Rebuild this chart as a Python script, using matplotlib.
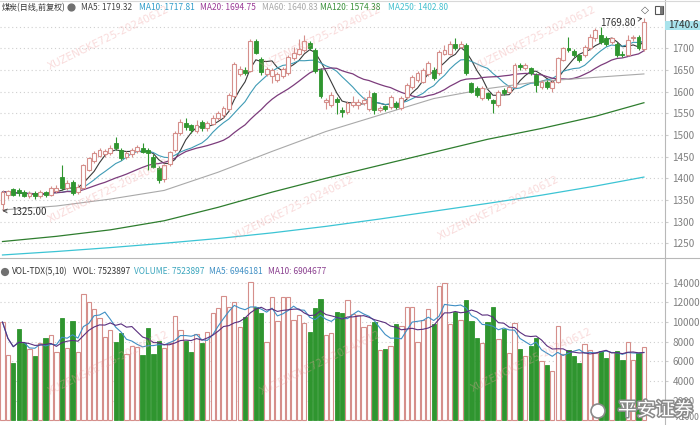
import numpy as np
import pandas as pd
import matplotlib
matplotlib.use('Agg')
import matplotlib.pyplot as plt
from matplotlib.patches import Rectangle, Circle
from matplotlib.lines import Line2D
import matplotlib.patheffects as pe

plt.rcParams['font.family'] = ['Noto Sans CJK SC', 'DejaVu Sans']

# daily candles (oldest first)
opens = [1340, 1362, 1376, 1374, 1368, 1358, 1366, 1360, 1368, 1362,
         1370, 1403, 1378, 1392, 1368, 1378, 1420, 1440, 1452, 1456,
         1458, 1481, 1466, 1448, 1455, 1462, 1470, 1466, 1449, 1424,
         1398, 1432, 1465, 1505, 1527, 1522, 1510, 1530, 1515, 1526,
         1538, 1546, 1560, 1590, 1640, 1650, 1648, 1718, 1675, 1641,
         1636, 1627, 1636, 1642, 1678, 1688, 1696, 1712, 1696, 1650,
         1577, 1570, 1582, 1558, 1552, 1569, 1570, 1573, 1560, 1596,
         1558, 1566, 1565, 1573, 1562, 1588, 1611, 1627, 1623, 1640,
         1650, 1642, 1688, 1688, 1711, 1704, 1707, 1619, 1608, 1585,
         1596, 1581, 1569, 1604, 1600, 1611, 1661, 1654, 1654, 1638,
         1611, 1623, 1608, 1623, 1673, 1700, 1694, 1685, 1685, 1700,
         1723, 1731, 1723, 1715, 1711, 1688, 1685, 1723, 1727, 1698]
closes = [1368, 1370, 1362, 1365, 1360, 1366, 1359, 1368, 1361, 1378,
          1378, 1377, 1390, 1366, 1380, 1430, 1446, 1458, 1466, 1464,
          1470, 1470, 1447, 1458, 1466, 1472, 1461, 1458, 1427, 1396,
          1430, 1460, 1505, 1530, 1518, 1512, 1522, 1515, 1528, 1540,
          1550, 1562, 1592, 1664, 1652, 1643, 1718, 1690, 1645, 1652,
          1650, 1640, 1652, 1680, 1690, 1698, 1716, 1700, 1648, 1590,
          1581, 1592, 1575, 1553, 1573, 1577, 1576, 1581, 1588, 1558,
          1562, 1560, 1588, 1565, 1585, 1615, 1634, 1642, 1650, 1665,
          1631, 1692, 1696, 1711, 1700, 1711, 1642, 1600, 1592, 1608,
          1585, 1573, 1600, 1596, 1611, 1661, 1657, 1661, 1642, 1615,
          1623, 1611, 1623, 1677, 1700, 1696, 1685, 1673, 1704, 1727,
          1742, 1715, 1711, 1723, 1685, 1685, 1719, 1727, 1700, 1760]
highs = [1374, 1374, 1378, 1378, 1372, 1370, 1370, 1372, 1371, 1382,
         1385, 1431, 1395, 1396, 1386, 1434, 1450, 1464, 1470, 1468,
         1476, 1495, 1470, 1462, 1470, 1476, 1481, 1470, 1455, 1428,
         1434, 1464, 1508, 1536, 1538, 1526, 1535, 1534, 1532, 1546,
         1556, 1566, 1596, 1668, 1660, 1656, 1722, 1722, 1680, 1658,
         1654, 1645, 1656, 1684, 1702, 1722, 1730, 1716, 1700, 1654,
         1585, 1598, 1588, 1565, 1578, 1590, 1582, 1588, 1604, 1600,
         1566, 1570, 1592, 1578, 1590, 1620, 1638, 1648, 1655, 1670,
         1656, 1696, 1707, 1716, 1723, 1716, 1712, 1622, 1612, 1612,
         1600, 1584, 1604, 1608, 1615, 1666, 1665, 1666, 1658, 1642,
         1628, 1626, 1628, 1680, 1704, 1727, 1698, 1688, 1708, 1732,
         1746, 1750, 1728, 1727, 1714, 1694, 1731, 1730, 1731, 1769.8]
lows = [1325, 1352, 1358, 1360, 1356, 1354, 1352, 1355, 1356, 1358,
        1366, 1372, 1372, 1362, 1364, 1376, 1416, 1436, 1448, 1450,
        1454, 1465, 1442, 1444, 1450, 1458, 1458, 1420, 1424, 1389,
        1392, 1428, 1460, 1500, 1512, 1505, 1505, 1510, 1510, 1522,
        1534, 1540, 1555, 1586, 1635, 1638, 1645, 1686, 1638, 1636,
        1620, 1622, 1632, 1638, 1672, 1684, 1692, 1696, 1644, 1585,
        1560, 1565, 1548, 1542, 1548, 1565, 1560, 1568, 1556, 1548,
        1552, 1555, 1560, 1560, 1558, 1584, 1606, 1622, 1620, 1636,
        1628, 1638, 1684, 1684, 1696, 1700, 1638, 1596, 1588, 1580,
        1580, 1550, 1565, 1592, 1596, 1608, 1650, 1650, 1638, 1598,
        1606, 1606, 1600, 1620, 1670, 1692, 1680, 1668, 1680, 1696,
        1718, 1710, 1706, 1710, 1680, 1680, 1682, 1718, 1696, 1694]
# volume in thousands (axis is x1000)
volumes = [10000, 6700, 5800, 9250, 7850, 7250, 6550, 7850, 8350, 8700,
           7000, 10400, 7350, 10100, 7000, 12850, 12000, 11300, 10450, 8500,
           9200, 7950, 8850, 6750, 7600, 7500, 6700, 9450, 6800, 8100,
           7350, 7850, 10650, 9200, 8100, 7000, 8750, 7900, 8950, 10900,
           11400, 12650, 11550, 12000, 9550, 10550, 14050, 11550, 10900, 8000,
           12600, 10100, 12600, 12600, 10200, 10700, 9950, 9000, 11400, 12400,
           8700, 8850, 11050, 10900, 12250, 10800, 10700, 9500, 9700, 10000,
           7200, 7300, 7600, 9800, 9600, 11500, 11500, 8000, 10200, 11300,
           9800, 13700, 14000, 9800, 11000, 10200, 12200, 10100, 8400, 7900,
           10000, 11500, 8300, 9300, 6900, 9900, 7300, 6600, 7600, 8400,
           6000, 5600, 5000, 9600, 6800, 7200, 6600, 5800, 7800, 7200,
           6900, 7100, 6300, 7000, 7100, 6100, 8000, 6100, 6900, 7500]

# long moving averages, read at every 10th candle
ma_idx = [0, 10, 20, 30, 40, 50, 60, 70, 80, 90, 100, 110, 119]
ma60 = [1327, 1336, 1352, 1372, 1414, 1462, 1508, 1546, 1584, 1607, 1624, 1633, 1640.83]
ma120 = [1254, 1266, 1281, 1302, 1333, 1368, 1400, 1430, 1460, 1490, 1515, 1543, 1574.38]
ma250 = [1223, 1231, 1240, 1250, 1261, 1274, 1289, 1306, 1324, 1342, 1361, 1382, 1402.80]

price_ticks = [1250, 1300, 1350, 1400, 1450, 1500, 1550, 1600, 1650, 1700]
price_grid = price_ticks + [1750]
vol_ticks = [2000, 4000, 6000, 8000, 10000, 12000, 14000]

UP_EDGE = '#d58f8b'
DOWN = '#2f952f'
W, H = 700, 425


def fx(x):
    return x / W


def fy(y):
    return 1 - y / H


fig = plt.figure(figsize=(7, 4.25), dpi=100)
ax = fig.add_axes([0, fy(258), fx(665), 258 / H])
axv = fig.add_axes([0, 0, fx(665), (H - 258) / H])

n = len(closes)
x = np.arange(n)
o = np.array(opens, float)
c = np.array(closes, float)
hi = np.array(highs, float)
lo = np.array(lows, float)
up = c >= o
xlim = (-2.5 / 5.39, (665 - 2.5) / 5.39)

# ---- shared axis look
for a in (ax, axv):
    a.set_xlim(*xlim)
    a.set_xticks([])
    a.yaxis.tick_right()
    a.tick_params(axis='y', length=2, color='#cccccc', labelsize=7.2,
                  labelcolor='#808080', pad=3.5)
    for s in ('left', 'top', 'bottom'):
        a.spines[s].set_visible(False)
    a.spines['right'].set_color('#b8b8b8')
    a.spines['right'].set_linewidth(0.8)

# ---- price panel
ax.set_ylim(1216.0, 1811.5)
ax.set_yticks(price_ticks)
for p in price_grid:
    ax.axhline(p, color='#cfcfcf', lw=0.8, ls=(0, (1, 2.5)), zorder=0)

# moving averages
cs = pd.Series(c)
ax.plot(x, cs.rolling(5, min_periods=1).mean(), color='#3a3a3a', lw=0.8, zorder=3)
ax.plot(x, cs.rolling(10, min_periods=1).mean(), color='#3f9bb5', lw=0.8, zorder=3)
ax.plot(x, cs.rolling(20, min_periods=1).mean(), color='#7c3c7c', lw=0.9, zorder=3)
ax.plot(ma_idx, ma60, color='#a9a9a9', lw=0.8, zorder=3)
ax.plot(ma_idx, ma120, color='#2e7d2e', lw=0.9, zorder=3)
ax.plot(ma_idx, ma250, color='#3cc4d4', lw=0.9, zorder=3)

# candles
wick_col = np.where(up, UP_EDGE, DOWN)
ax.vlines(x, lo, hi, colors=wick_col, lw=0.8, zorder=4)
body_h = np.maximum(np.abs(c - o), 0.8)
body_b = np.minimum(o, c)
ax.bar(x[up], body_h[up], bottom=body_b[up], width=0.72, facecolor='white',
       edgecolor=UP_EDGE, linewidth=0.8, zorder=5)
ax.bar(x[~up], body_h[~up], bottom=body_b[~up], width=0.72, facecolor=DOWN,
       edgecolor=DOWN, linewidth=0.6, zorder=5)

# high / low marks
ax.annotate('1769.80', xy=(n - 1, highs[-1]), xytext=(600, H - 23),
            textcoords='figure pixels', ha='left', va='center', fontsize=7,
            color='#333333', zorder=6,
            arrowprops=dict(arrowstyle='->', color='#444444', lw=0.6,
                            shrinkA=1, shrinkB=1))
ax.annotate('1325.00', xy=(0, min(lows)), xytext=(11, H - 211.7),
            textcoords='figure pixels', ha='left', va='center', fontsize=7,
            color='#333333', zorder=6,
            arrowprops=dict(arrowstyle='->', color='#444444', lw=0.6,
                            shrinkA=1, shrinkB=0))

# ---- volume panel
axv.set_ylim(-468, 16520)
axv.set_yticks(vol_ticks)
for v in vol_ticks:
    axv.axhline(v, color='#cfcfcf', lw=0.8, ls=(0, (1, 2.5)), zorder=0)
vol = np.array(volumes, float)
axv.bar(x[up], vol[up], width=0.8, facecolor='white', edgecolor=UP_EDGE,
        linewidth=0.8, zorder=3)
axv.bar(x[~up], vol[~up], width=0.8, facecolor=DOWN, edgecolor=DOWN,
        linewidth=0.6, zorder=3)
vs = pd.Series(vol)
axv.plot(x, vs.rolling(5, min_periods=1).mean(), color='#3f8fc4', lw=0.8, zorder=4)
axv.plot(x, vs.rolling(10, min_periods=1).mean(), color='#5a2f7e', lw=0.8, zorder=4)

# panel separator, spanning the axis column too
fig.add_artist(Line2D([0, 1], [fy(258), fy(258)], transform=fig.transFigure,
                      color='#b8b8b8', lw=0.8))
fig.add_artist(Line2D([0, 1], [fy(0.5), fy(0.5)], transform=fig.transFigure,
                      color='#d8d8d8', lw=0.8))

# ---- header texts
hy = 7.5
fs = 6.0
fig.text(fx(2), fy(hy), '煤炭(日线,前复权)', fontsize=5.8, color='#333333', va='center')
fig.add_artist(Circle((0.715, (H - hy) / 100), 0.034, transform=fig.dpi_scale_trans,
                      color='#707070'))
for xx, s, col in [(81, 'MA5: 1719.32', '#444444'),
                   (139, 'MA10: 1717.81', '#2f9cc9'),
                   (200, 'MA20: 1694.75', '#9a3a96'),
                   (262, 'MA60: 1640.83', '#a8a8a8'),
                   (320, 'MA120: 1574.38', '#3a913a'),
                   (388, 'MA250: 1402.80', '#45c0cf')]:
    fig.text(fx(xx), fy(hy), s, fontsize=fs, color=col, va='center')

vy = 272
fig.add_artist(Circle((0.05, (H - vy) / 100), 0.034, transform=fig.dpi_scale_trans,
                      color='#707070'))
for xx, s, col in [(12, 'VOL-TDX(5,10)', '#333333'),
                   (73, 'VVOL: 7523897', '#333333'),
                   (134, 'VOLUME: 7523897', '#3aa5bd'),
                   (209, 'MA5: 6946181', '#3f8fc4'),
                   (268, 'MA10: 6904677', '#8a3f8f')]:
    fig.text(fx(xx), fy(vy), s, fontsize=fs, color=col, va='center')

# top-right icons
fig.text(fx(645), fy(9.5), '◇', fontsize=7.5, color='#555555', ha='center',
         va='center', family=['DejaVu Sans'])
fig.add_artist(Rectangle((fx(655), fy(13.5)), fx(8), 7 / H, transform=fig.transFigure,
                         facecolor='white', edgecolor='#555555', lw=0.8))
fig.add_artist(Rectangle((fx(659.5), fy(13.5)), fx(3.5), 7 / H, transform=fig.transFigure,
                         facecolor='#777777', edgecolor='none'))

# latest price box
fig.add_artist(Rectangle((fx(665), fy(30)), fx(35), 9.5 / H, transform=fig.transFigure,
                         facecolor='#a9e3ec', edgecolor='none'))
fig.text(fx(668), fy(25.3), '1740.6', fontsize=7.2, color='#333333', va='center')

fig.text(fx(676), fy(417), 'X1000', fontsize=6.2, color='#808080', va='center')

# watermarks
for xx, yy in [(50, 70), (262, 70), (477, 70), (50, 223), (235, 240),
               (440, 240), (50, 395), (262, 395), (473, 392)]:
    fig.text(fx(xx), fy(yy), 'XUZENGKE725-20240612', fontsize=7.5, color='#efa0a0',
             alpha=0.38, rotation=26, rotation_mode='anchor', ha='left',
             va='baseline', family=['DejaVu Sans'])

fig.text(fx(618), fy(410), '平安证券', fontsize=13.5, color='white', va='center',
         path_effects=[pe.withStroke(linewidth=2.2, foreground='#8a8a8a')])
fig.add_artist(Circle((5.98, (H - 411) / 100), 0.07, transform=fig.dpi_scale_trans,
                      facecolor='white', edgecolor='#8a8a8a', lw=1.2))

fig.savefig('out.png', dpi=100)
